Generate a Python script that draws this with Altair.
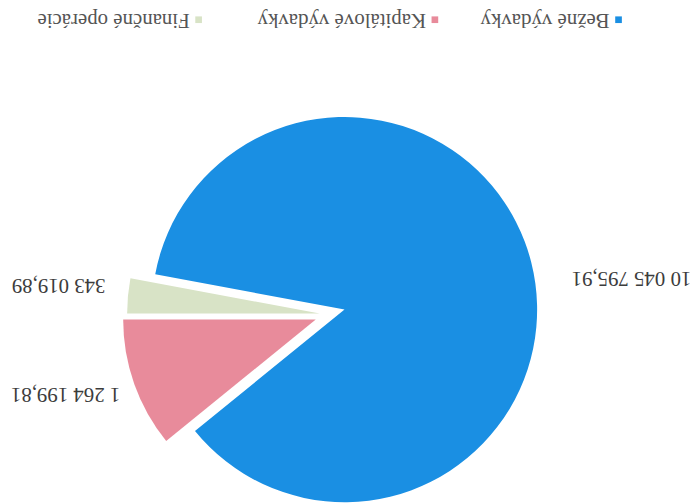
import math
import altair as alt
import pandas as pd

# ---- data read from the (upside-down) reference picture ----
categories = ["Bežné výdavky", "Kapitálové výdavky", "Finančné operácie"]
values = [10045795.91, 1264199.81, 343019.89]
value_labels = ["10 045 795,91", "1 264 199,81", "343 019,89"]
stack_order = [1, 2, 0]
colors = ["#1a8fe3", "#e88b9b", "#d8e3c6"]

df = pd.DataFrame({"cat": categories, "value": values,
                   "label": value_labels, "order": stack_order})
total = float(sum(values))

# ---- layout (page pixels; plot origin is at page (8, 8)) ----
W, H = 684, 488


def px(x):
    return x - 8


def py(y):
    return y - 8


R = 194
slice_centers = {categories[0]: (347, 307),
                 categories[1]: (318, 317),
                 categories[2]: (322, 311)}
label_pos = {categories[0]: (636, 275),
             categories[1]: (66, 392),
             categories[2]: (59, 282)}
legend_marker = {categories[0]: (623, 15),
                 categories[1]: (438, 15),
                 categories[2]: (200, 15)}

FONT = "Liberation Serif"
base = alt.Chart(df)
theta_scale = alt.Scale(domain=[0, total], range=[1.5 * math.pi, 3.5 * math.pi])
color_scale = alt.Scale(domain=categories, range=colors)

layers = []
for cat in categories:
    cx, cy = slice_centers[cat]
    arc = (
        base.transform_stack(stack="value", groupby=[], as_=["v0", "v1"],
                             sort=[alt.SortField("order", order="ascending")])
        .transform_filter(alt.datum.cat == cat)
        .mark_arc(radius=R)
        .encode(
            theta=alt.Theta("v0:Q", scale=theta_scale, stack=False),
            theta2="v1:Q",
            color=alt.Color("cat:N", scale=color_scale, legend=None),
            x=alt.value(px(cx)),
            y=alt.value(py(cy)),
        )
    )
    layers.append(arc)

for cat in categories:
    lx, ly = label_pos[cat]
    txt = (
        base.transform_filter(alt.datum.cat == cat)
        .mark_text(angle=180, font=FONT, fontSize=21, color="#3c3c3c",
                   align="center", baseline="middle")
        .encode(text="label:N", x=alt.value(px(lx)), y=alt.value(py(ly)))
    )
    layers.append(txt)

for cat in categories:
    mx, my = legend_marker[cat]
    mk = (
        base.transform_filter(alt.datum.cat == cat)
        .mark_square(size=45, opacity=1)
        .encode(color=alt.Color("cat:N", scale=color_scale, legend=None),
                x=alt.value(px(mx)), y=alt.value(py(my)))
    )
    lt = (
        base.transform_filter(alt.datum.cat == cat)
        .mark_text(angle=180, font=FONT, fontSize=21, color="#555555",
                   align="left", baseline="middle")
        .encode(text="cat:N", x=alt.value(px(mx - 9)), y=alt.value(py(my)))
    )
    layers.append(mk)
    layers.append(lt)

chart = (
    alt.layer(*layers)
    .properties(width=W, height=H, padding=0)
    .configure_view(strokeWidth=0)
)

chart.save("out.html", embed_options={"renderer": "svg", "actions": False})
